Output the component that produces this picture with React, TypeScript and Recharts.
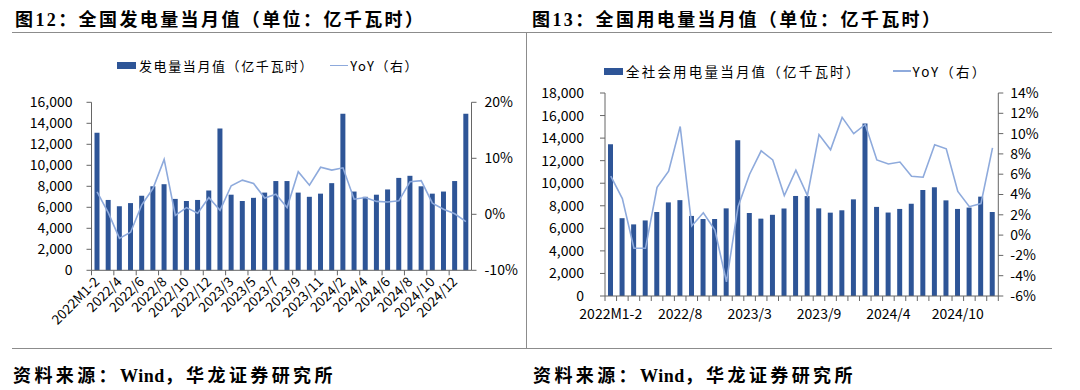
import React from 'react';
import { ComposedChart, Bar, Line, XAxis, YAxis, Legend } from 'recharts';

// shared month categories (Jan-Feb reported together)
const MONTHS = [
  '2022M1-2', '2022/3', '2022/4', '2022/5', '2022/6', '2022/7', '2022/8', '2022/9', '2022/10', '2022/11', '2022/12',
  '2023/2', '2023/3', '2023/4', '2023/5', '2023/6', '2023/7', '2023/8', '2023/9', '2023/10', '2023/11', '2023/12',
  '2024/2', '2024/3', '2024/4', '2024/5', '2024/6', '2024/7', '2024/8', '2024/9', '2024/10', '2024/11', '2024/12',
  '2025/2',
];

// 图12 发电量 (亿千瓦时) and YoY (%)
const GEN = [
  13100, 6700, 6100, 6400, 7100, 8000, 8200, 6800, 6600, 6700, 7600,
  13500, 7200, 6600, 6900, 7400, 8500, 8500, 7400, 7000, 7300, 8300,
  14900, 7500, 7000, 7200, 7700, 8800, 9000, 8000, 7300, 7500, 8500,
  14900,
];
const GEN_YOY = [
  4.0, 0.3, -4.3, -3.2, 1.7, 4.6, 9.8, -0.2, 1.2, 0.2, 3.0,
  0.7, 5.1, 6.1, 5.5, 2.9, 3.6, 1.2, 7.6, 5.2, 8.4, 7.9,
  8.3, 2.7, 3.0, 2.3, 2.2, 2.4, 5.8, 6.0, 2.0, 0.9, 0.1,
  -1.3,
];

// 图13 全社会用电量 (亿千瓦时) and YoY (%)
const USE = [
  13450, 6900, 6350, 6700, 7450, 8300, 8500, 7100, 6830, 6830, 7770,
  13800, 7360, 6860, 7200, 7750, 8870, 8860, 7770, 7390, 7600, 8570,
  15300, 7900, 7400, 7720, 8180, 9400, 9640, 8480, 7720, 7840, 8810,
  7450,
];
const USE_YOY = [
  5.8, 3.6, -1.3, -1.3, 4.7, 6.3, 10.7, 0.9, 2.2, 0.5, -4.6,
  2.8, 6.0, 8.3, 7.4, 3.9, 6.4, 3.9, 9.9, 8.4, 11.6, 10.0,
  10.9, 7.4, 7.0, 7.2, 5.8, 5.7, 8.9, 8.5, 4.3, 2.8, 3.1,
  8.6,
];

const GEN_TICKS = [0, 2000, 4000, 6000, 8000, 10000, 12000, 14000, 16000];
const GEN_YOY_TICKS = [-10, 0, 10, 20];
const USE_TICKS = [0, 2000, 4000, 6000, 8000, 10000, 12000, 14000, 16000, 18000];
const USE_YOY_TICKS = [-6, -4, -2, 0, 2, 4, 6, 8, 10, 12, 14];

const genData = MONTHS.map((m, i) => ({ month: m, value: GEN[i], yoy: GEN_YOY[i] }));
const useData = MONTHS.map((m, i) => ({ month: m, value: USE[i], yoy: USE_YOY[i] }));

const BAR_COLOR = '#2e5597';
const LINE_COLOR = '#8eaadc';
const AXIS_COLOR = '#666666';
const FONT = '"Noto Sans CJK SC", "Noto Sans", sans-serif';
const TITLE_FONT = '"Liberation Serif", "Noto Sans CJK SC", serif';

const L_PLOT_W = 380;
const R_PLOT_W = 393.3;

const fmtNum = (v: number) => v.toLocaleString('en-US');
const fmtPct = (v: number) => `${v}%`;

const tickStyle = { fontSize: 14, fill: '#000', fontFamily: FONT };

function GenTick(props: any) {
  const { x, y, payload } = props;
  const band = L_PLOT_W / MONTHS.length;
  return (
    <g>
      <line x1={x - band / 2} x2={x - band / 2} y1={y - 9} y2={y - 4} stroke={AXIS_COLOR} />
      <text
        x={x}
        y={y}
        dy="0.35em"
        textAnchor="end"
        transform={`rotate(-45, ${x}, ${y})`}
        fontSize={13.5}
        fill="#000"
        fontFamily={FONT}
      >
        {payload.value}
      </text>
    </g>
  );
}

function UseTick(props: any) {
  const { x, y, payload, index } = props;
  const band = R_PLOT_W / MONTHS.length;
  return (
    <g>
      <line x1={x - band / 2} x2={x - band / 2} y1={y - 13} y2={y - 8} stroke={AXIS_COLOR} />
      {index === MONTHS.length - 1 && (
        <line x1={x + band / 2} x2={x + band / 2} y1={y - 13} y2={y - 8} stroke={AXIS_COLOR} />
      )}
      {index % 6 === 0 && (
        <text x={x} y={y} dy="0.71em" textAnchor="middle" fontSize={14} fill="#000" fontFamily={FONT}>
          {payload.value}
        </text>
      )}
    </g>
  );
}

function makeLegend(gap: number, fontSize: number, spacing: number) {
  return (props: any) => {
    const items = props.payload || [];
    const bar = items.find((p: any) => p.type === 'rect');
    const line = items.find((p: any) => p.type === 'line');
    return (
      <div style={{ display: 'flex', alignItems: 'center', fontFamily: FONT, fontSize, color: '#000', whiteSpace: 'nowrap' }}>
        <span style={{ display: 'inline-block', width: 19, height: 7, background: BAR_COLOR, marginRight: 3 }} />
        <span style={{ letterSpacing: spacing }}>{bar?.value}</span>
        <span style={{ display: 'inline-block', width: 18, height: 1.5, background: LINE_COLOR, marginLeft: gap, marginRight: 2 }} />
        <span style={{ letterSpacing: spacing }}>{line?.value}</span>
      </div>
    );
  };
}

const titleStyle: React.CSSProperties = {
  position: 'absolute', top: 5, fontFamily: TITLE_FONT, fontWeight: 700, fontSize: 18,
  letterSpacing: 2.4, whiteSpace: 'nowrap', color: '#000',
};
const sourceStyle: React.CSSProperties = {
  position: 'absolute', top: 361, fontFamily: TITLE_FONT, fontWeight: 700, fontSize: 18,
  letterSpacing: 3.4, whiteSpace: 'nowrap', color: '#000',
};

function Source({ left }: { left: number }) {
  return (
    <div style={{ ...sourceStyle, left }}>
      资料来源：<span style={{ letterSpacing: 0.5 }}>Wind</span>，华龙证券研究所
    </div>
  );
}

export default function App() {
  return (
    <div style={{ position: 'absolute', left: 0, top: 0, width: 1080, height: 390, background: '#fff', overflow: 'hidden', fontFamily: FONT }}>
      {/* titles */}
      <div style={{ ...titleStyle, left: 15 }}>图12：全国发电量当月值（单位：亿千瓦时）</div>
      <div style={{ ...titleStyle, left: 532 }}>图13：全国用电量当月值（单位：亿千瓦时）</div>
      {/* frame lines */}
      <div style={{ position: 'absolute', left: 12, top: 32, width: 1040, height: 1, background: '#8c8c8c' }} />
      <div style={{ position: 'absolute', left: 526, top: 33, width: 1, height: 315, background: '#8c8c8c' }} />
      <div style={{ position: 'absolute', left: 12, top: 348, width: 1040, height: 1, background: '#8c8c8c' }} />
      {/* sources */}
      <Source left={13} />
      <Source left={533} />

      {/* 图12 */}
      <div style={{ position: 'absolute', left: 0, top: 0 }}>
        <ComposedChart width={526} height={345} data={genData} margin={{ top: 102.3, right: 0, bottom: 4.7, left: 31.5 }}>
          <XAxis
            dataKey="month"
            interval={1}
            height={70}
            tickSize={0}
            tickMargin={9}
            tickLine={false}
            axisLine={{ stroke: AXIS_COLOR }}
            tick={<GenTick />}
          />
          <YAxis
            yAxisId="left"
            width={60}
            domain={[0, 16000]}
            ticks={GEN_TICKS}
            interval={0}
            tickFormatter={fmtNum}
            tickSize={5}
            tickMargin={14}
            axisLine={{ stroke: AXIS_COLOR }}
            tickLine={{ stroke: AXIS_COLOR }}
            tick={tickStyle}
          />
          <YAxis
            yAxisId="right"
            orientation="right"
            width={54.5}
            domain={[-10, 20]}
            ticks={GEN_YOY_TICKS}
            interval={0}
            tickFormatter={fmtPct}
            tickSize={5}
            tickMargin={8}
            axisLine={{ stroke: AXIS_COLOR }}
            tickLine={{ stroke: AXIS_COLOR }}
            tick={tickStyle}
          />
          <Legend
            layout="horizontal"
            verticalAlign="middle"
            align="center"
            wrapperStyle={{ top: 56, left: 117, width: 'auto' }}
            content={makeLegend(16, 13, 1.6)}
          />
          <Bar yAxisId="left" dataKey="value" name="发电量当月值（亿千瓦时）" fill={BAR_COLOR} barSize={5} isAnimationActive={false} />
          <Line yAxisId="right" dataKey="yoy" name="YoY（右）" type="linear" stroke={LINE_COLOR} strokeWidth={1.6} dot={false} isAnimationActive={false} />
        </ComposedChart>
      </div>

      {/* 图13 */}
      <div style={{ position: 'absolute', left: 528, top: 0 }}>
        <ComposedChart width={552} height={345} data={useData} margin={{ top: 93, right: 21.7, bottom: 19, left: 17 }}>
          <XAxis
            dataKey="month"
            interval={0}
            height={30}
            tickSize={0}
            tickMargin={13}
            tickLine={false}
            axisLine={{ stroke: AXIS_COLOR }}
            tick={<UseTick />}
          />
          <YAxis
            yAxisId="left"
            width={60}
            domain={[0, 18000]}
            ticks={USE_TICKS}
            interval={0}
            tickFormatter={fmtNum}
            tickSize={5}
            tickMargin={16}
            axisLine={{ stroke: AXIS_COLOR }}
            tickLine={{ stroke: AXIS_COLOR }}
            tick={tickStyle}
          />
          <YAxis
            yAxisId="right"
            orientation="right"
            width={60}
            domain={[-6, 14]}
            ticks={USE_YOY_TICKS}
            interval={0}
            tickFormatter={fmtPct}
            tickSize={5}
            tickMargin={7}
            axisLine={{ stroke: AXIS_COLOR }}
            tickLine={{ stroke: AXIS_COLOR }}
            tick={tickStyle}
          />
          <Legend
            layout="horizontal"
            verticalAlign="middle"
            align="center"
            wrapperStyle={{ top: 61, left: 76, width: 'auto' }}
            content={makeLegend(31, 13.5, 2.2)}
          />
          <Bar yAxisId="left" dataKey="value" name="全社会用电量当月值（亿千瓦时）" fill={BAR_COLOR} barSize={5} isAnimationActive={false} />
          <Line yAxisId="right" dataKey="yoy" name="YoY（右）" type="linear" stroke={LINE_COLOR} strokeWidth={1.6} dot={false} isAnimationActive={false} />
        </ComposedChart>
      </div>
    </div>
  );
}
